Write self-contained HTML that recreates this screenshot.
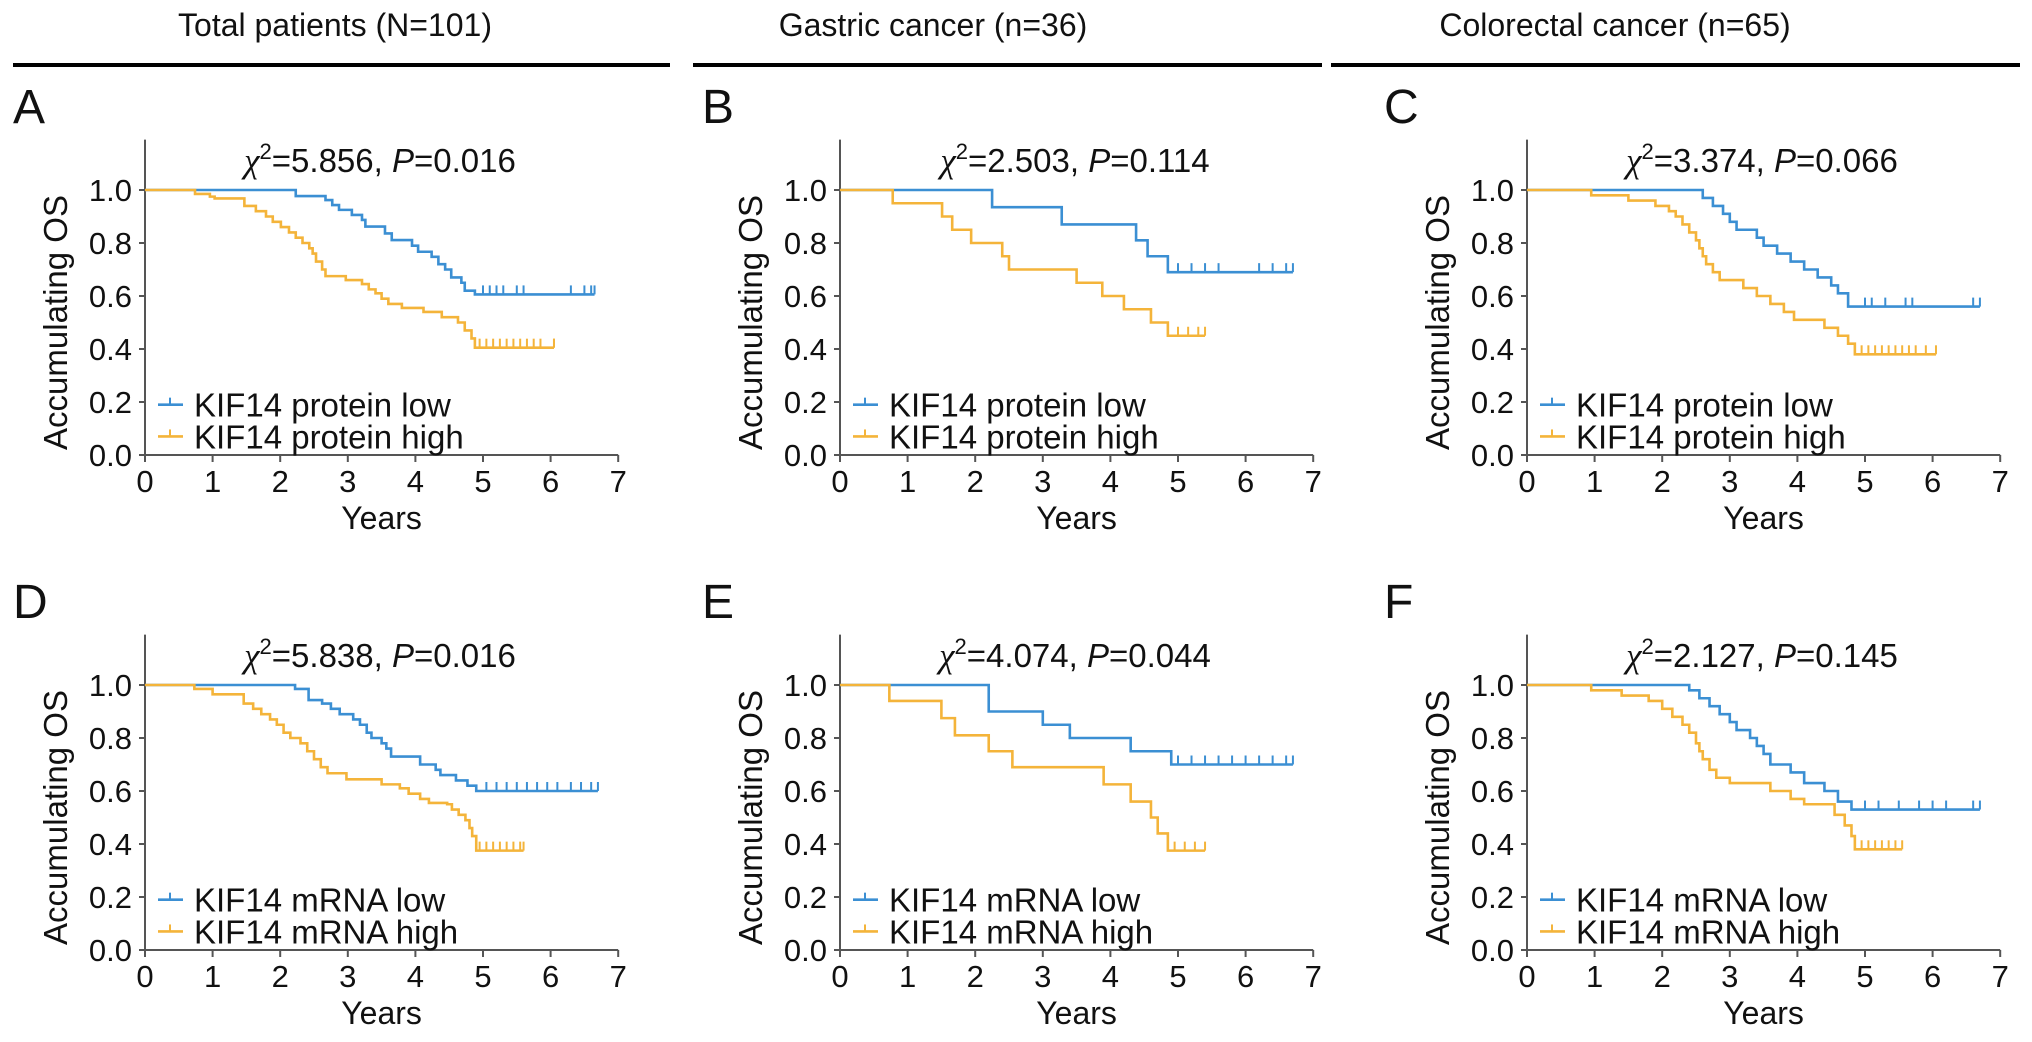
<!DOCTYPE html>
<html><head><meta charset="utf-8"><style>
html,body{margin:0;padding:0;background:#fff;}
svg{display:block;font-family:"Liberation Sans",Arial,sans-serif;}
</style></head><body>
<svg id="fig" width="2032" height="1042" viewBox="0 0 2032 1042" xmlns="http://www.w3.org/2000/svg"></svg>
<script>
// ---- data (years, survival) ----
const headers = ["Total patients (N=101)", "Gastric cancer (n=36)", "Colorectal cancer (n=65)"];
const letters = ["A","B","C","D","E","F"];
const chiLabels = ["5.856","2.503","3.374","5.838","4.074","2.127"];
const pLabels = ["0.016","0.114","0.066","0.016","0.044","0.145"];
const legendLow = ["KIF14 protein low","KIF14 protein low","KIF14 protein low","KIF14 mRNA low","KIF14 mRNA low","KIF14 mRNA low"];
const legendHigh = ["KIF14 protein high","KIF14 protein high","KIF14 protein high","KIF14 mRNA high","KIF14 mRNA high","KIF14 mRNA high"];
const xTicks = [0,1,2,3,4,5,6,7];
const yTicks = [0,0.2,0.4,0.6,0.8,1.0];
const yTickLabels = ["0.0","0.2","0.4","0.6","0.8","1.0"];

// Panel A
const lowTimesA = [2.23,2.67,2.77,2.87,3.06,3.21,3.26,3.55,3.65,3.95,4.04,4.24,4.34,4.44,4.53,4.68,4.73,4.88];
const lowSurvA  = [0.977,0.962,0.943,0.925,0.906,0.887,0.862,0.836,0.811,0.79,0.767,0.748,0.72,0.70,0.67,0.65,0.62,0.606];
const lowCensA  = [5.0,5.1,5.2,5.3,5.5,5.6,6.3,6.5,6.6];
const lowEndA = 6.65;
const highTimesA = [0.74,0.96,1.03,1.47,1.64,1.79,1.89,2.01,2.13,2.23,2.33,2.43,2.48,2.53,2.62,2.67,2.97,3.21,3.31,3.41,3.5,3.6,3.8,4.12,4.39,4.63,4.73,4.83,4.88];
const highSurvA  = [0.985,0.975,0.968,0.94,0.92,0.90,0.88,0.86,0.84,0.82,0.80,0.78,0.76,0.73,0.70,0.675,0.66,0.645,0.625,0.61,0.59,0.57,0.555,0.54,0.52,0.50,0.47,0.44,0.405];
const highCensA  = [4.95,5.05,5.15,5.25,5.35,5.45,5.55,5.65,5.75,5.85,6.05];
const highEndA = 6.05;
// Panel B
const lowTimesB = [2.25,3.28,4.38,4.55,4.85];
const lowSurvB  = [0.935,0.87,0.81,0.75,0.69];
const lowCensB  = [5.0,5.2,5.4,5.6,6.2,6.4,6.6];
const lowEndB = 6.7;
const highTimesB = [0.78,1.51,1.66,1.94,2.4,2.5,3.5,3.88,4.2,4.6,4.85];
const highSurvB  = [0.95,0.90,0.85,0.80,0.75,0.70,0.65,0.60,0.55,0.50,0.45];
const highCensB  = [5.0,5.15,5.3];
const highEndB = 5.4;
// Panel C
const lowTimesC = [2.6,2.75,2.9,3.0,3.1,3.4,3.5,3.7,3.9,4.1,4.3,4.5,4.6,4.75];
const lowSurvC  = [0.97,0.94,0.91,0.88,0.85,0.82,0.79,0.76,0.73,0.70,0.67,0.64,0.61,0.56];
const lowCensC  = [5.0,5.1,5.3,5.6,5.7,6.6];
const lowEndC = 6.7;
const highTimesC = [0.95,1.5,1.9,2.1,2.2,2.3,2.4,2.5,2.55,2.6,2.65,2.75,2.85,3.2,3.4,3.6,3.8,3.95,4.4,4.6,4.75,4.85];
const highSurvC  = [0.98,0.96,0.94,0.92,0.90,0.87,0.84,0.81,0.78,0.75,0.72,0.69,0.66,0.63,0.60,0.57,0.54,0.51,0.48,0.45,0.42,0.38];
const highCensC  = [4.95,5.05,5.15,5.25,5.35,5.45,5.55,5.65,5.75,5.9];
const highEndC = 6.05;
// Panel D
const lowTimesD = [2.22,2.42,2.62,2.75,2.88,3.08,3.18,3.28,3.35,3.5,3.57,3.64,4.07,4.3,4.37,4.6,4.77,4.9];
const lowSurvD  = [0.985,0.943,0.93,0.91,0.89,0.87,0.85,0.82,0.80,0.78,0.76,0.73,0.70,0.68,0.66,0.64,0.62,0.60];
const lowCensD  = [5.05,5.2,5.35,5.5,5.65,5.8,5.95,6.1,6.3,6.45,6.6];
const lowEndD = 6.7;
const highTimesD = [0.73,1.0,1.46,1.6,1.72,1.85,1.95,2.05,2.15,2.3,2.4,2.5,2.6,2.7,2.98,3.5,3.77,3.9,4.07,4.2,4.47,4.54,4.64,4.74,4.8,4.84,4.9];
const highSurvD  = [0.985,0.965,0.93,0.91,0.89,0.87,0.85,0.82,0.80,0.78,0.75,0.72,0.69,0.667,0.644,0.625,0.61,0.59,0.57,0.555,0.55,0.53,0.51,0.49,0.46,0.43,0.375];
const highCensD  = [4.95,5.05,5.15,5.25,5.35,5.45,5.55];
const highEndD = 5.6;
// Panel E
const lowTimesE = [2.2,3.0,3.4,4.3,4.9];
const lowSurvE  = [0.90,0.85,0.80,0.75,0.70];
const lowCensE  = [5.0,5.2,5.4,5.6,5.8,6.0,6.2,6.4,6.6];
const lowEndE = 6.7;
const highTimesE = [0.73,1.5,1.7,2.2,2.55,3.9,4.3,4.6,4.7,4.85];
const highSurvE  = [0.94,0.875,0.81,0.75,0.69,0.625,0.56,0.50,0.44,0.375];
const highCensE  = [4.95,5.1,5.25];
const highEndE = 5.4;
// Panel F
const lowTimesF = [2.4,2.55,2.7,2.85,3.0,3.1,3.3,3.4,3.5,3.6,3.9,4.1,4.4,4.6,4.8];
const lowSurvF  = [0.98,0.95,0.92,0.89,0.86,0.83,0.80,0.77,0.74,0.70,0.67,0.63,0.60,0.56,0.53];
const lowCensF  = [5.0,5.2,5.5,5.8,6.0,6.2,6.6];
const lowEndF = 6.7;
const highTimesF = [0.95,1.4,1.8,2.0,2.15,2.3,2.4,2.5,2.55,2.6,2.7,2.8,3.0,3.6,3.9,4.1,4.55,4.7,4.8,4.85];
const highSurvF  = [0.98,0.96,0.94,0.91,0.88,0.85,0.82,0.78,0.75,0.72,0.68,0.65,0.63,0.60,0.57,0.55,0.51,0.47,0.43,0.38];
const highCensF  = [4.95,5.05,5.15,5.25,5.35,5.45];
const highEndF = 5.55;

const panels = [
 {low:[lowTimesA,lowSurvA,lowCensA,lowEndA],high:[highTimesA,highSurvA,highCensA,highEndA]},
 {low:[lowTimesB,lowSurvB,lowCensB,lowEndB],high:[highTimesB,highSurvB,highCensB,highEndB]},
 {low:[lowTimesC,lowSurvC,lowCensC,lowEndC],high:[highTimesC,highSurvC,highCensC,highEndC]},
 {low:[lowTimesD,lowSurvD,lowCensD,lowEndD],high:[highTimesD,highSurvD,highCensD,highEndD]},
 {low:[lowTimesE,lowSurvE,lowCensE,lowEndE],high:[highTimesE,highSurvE,highCensE,highEndE]},
 {low:[lowTimesF,lowSurvF,lowCensF,lowEndF],high:[highTimesF,highSurvF,highCensF,highEndF]}
];

// ---- layout ----
const svg = document.getElementById('fig');
const NS = "http://www.w3.org/2000/svg";
const colX = [145, 840, 1527];
const rowOff = [0, 495];
const YEAR = 67.6, UNIT = 265, Y0 = 455;
const BLUE = "#3b8fd3", ORANGE = "#f4b43a";
function mk(tag, attrs, parent, text){
  const e = document.createElementNS(NS, tag);
  for (const k in attrs) e.setAttribute(k, attrs[k]);
  if (text !== undefined) e.textContent = text;
  (parent||svg).appendChild(e); return e;
}
const headerLines = [[13,670],[693,1322],[1331,2020]];
const headerCx = [335, 933, 1615];
headers.forEach((h,i)=>{
  const t = mk('text',{x:headerCx[i],y:36,'text-anchor':'middle','font-size':32,fill:'#111'},svg,h);
  
  
  const l = mk('line',{x1:headerLines[i][0],x2:headerLines[i][1],y1:65,y2:65,stroke:'#000','stroke-width':4});
  
  
});
const letterX = [13, 702, 1384];

panels.forEach((p,idx)=>{
  const c = idx%3, r = Math.floor(idx/3);
  const ox = colX[c], oy = rowOff[r];
  const g = mk('g',{});
  
  
  const X = t => ox + t*YEAR;
  const Y = v => oy + Y0 - v*UNIT;
  const lt = mk('text',{x:letterX[c],y:oy+123,'font-size':48,fill:'#111'},g,letters[idx]);
  
  
  const ya = mk('line',{x1:ox,x2:ox,y1:Y(1.19),y2:Y(0),stroke:'#555','stroke-width':2},g);
  
  
  const xa = mk('line',{x1:ox,x2:X(7),y1:Y(0),y2:Y(0),stroke:'#555','stroke-width':2},g);
  
  
  yTicks.forEach((v,i)=>{
    mk('line',{x1:ox-6,x2:ox,y1:Y(v),y2:Y(v),stroke:'#555','stroke-width':2},g);
    const tl = mk('text',{x:ox-13,y:Y(v)+11,'text-anchor':'end','font-size':31,fill:'#111'},g,yTickLabels[i]);
    
    
  });
  xTicks.forEach(v=>{
    mk('line',{x1:X(v),x2:X(v),y1:Y(0),y2:Y(0)+7,stroke:'#555','stroke-width':2},g);
    const tl = mk('text',{x:X(v),y:oy+492,'text-anchor':'middle','font-size':31,fill:'#111'},g,String(v));
    
    
  });
  const xt = mk('text',{x:X(3.5),y:oy+529,'text-anchor':'middle','font-size':32,fill:'#111'},g,'Years');
  
  
  const yy = Y(0.5);
  const yt = mk('text',{x:0,y:0,'text-anchor':'middle','font-size':33,fill:'#111',transform:`translate(${ox-78},${yy}) rotate(-90)`},g,'Accumulating OS');
  
  
  const st = mk('text',{x:ox+235,y:oy+172,'text-anchor':'middle','font-size':33,fill:'#111'},g);
  
  
  mk('tspan',{'font-style':'italic','font-family':'"Liberation Serif",serif','font-size':35},st,'χ');
  mk('tspan',{dy:-13,'font-size':22},st,'2');
  mk('tspan',{dy:13},st,'='+chiLabels[idx]+', ');
  mk('tspan',{'font-style':'italic'},st,'P');
  mk('tspan',{},st,'='+pLabels[idx]);
  [['low',BLUE],['high',ORANGE]].forEach(([key,col])=>{
    const [times,surv,cens,end] = p[key];
    let d = `M${X(0)},${Y(1)}`;
    times.forEach((t,i)=>{ d += ` H${X(t)} V${Y(surv[i])}`; });
    d += ` H${X(end)}`;
    const path = mk('path',{d:d,fill:'none',stroke:col,'stroke-width':2.6},g);
    
    
    cens.concat([end]).forEach(t=>{
      let v = 1; times.forEach((tt,i)=>{ if (tt<=t) v = surv[i]; });
      const cm = mk('line',{x1:X(t),x2:X(t),y1:Y(v),y2:Y(v)-9,stroke:col,'stroke-width':2},g);
      
      
    });
  });
  [[0.19,BLUE,legendLow[idx]],[0.07,ORANGE,legendHigh[idx]]].forEach(([v,col,label])=>{
    const le = mk('g',{},g);
    
    
    mk('line',{x1:ox+13,x2:ox+38,y1:Y(v),y2:Y(v),stroke:col,'stroke-width':2.6},le);
    mk('line',{x1:ox+25,x2:ox+25,y1:Y(v),y2:Y(v)-7,stroke:col,'stroke-width':2},le);
    mk('text',{x:ox+49,y:Y(v)+12,'font-size':33,fill:'#111'},le,label);
  });
});
</script>
</body></html>
